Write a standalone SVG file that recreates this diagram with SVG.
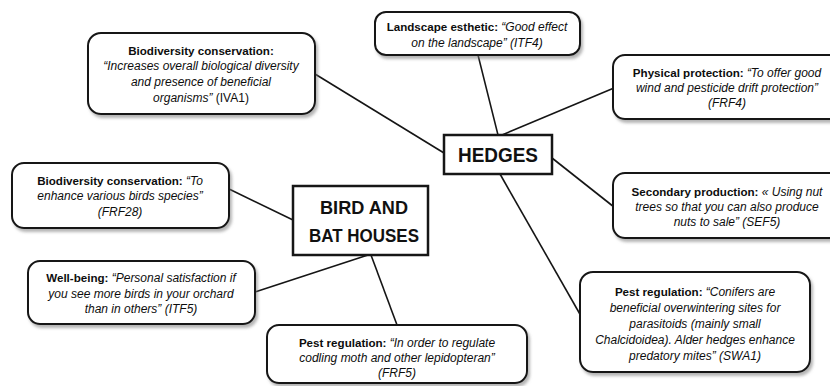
<svg xmlns="http://www.w3.org/2000/svg" width="830" height="386" viewBox="0 0 830 386">
<defs>
<filter id="sh" x="-10%" y="-10%" width="130%" height="140%">
<feDropShadow dx="2" dy="3" stdDeviation="1.5" flood-color="#777" flood-opacity="0.55"/>
</filter>
</defs>
<style>
.box{fill:#fff;stroke:#161616;stroke-width:2;filter:url(#sh)}
.hub{fill:#fff;stroke:#161616;stroke-width:2.5}
.t{font-family:"Liberation Sans",Arial,sans-serif;font-size:12px;text-anchor:middle;fill:#0d0d0d}
.h{font-family:"Liberation Sans",Arial,sans-serif;font-weight:bold;text-anchor:middle;fill:#111}
.b{font-weight:bold;font-size:11.6px}
.i{font-style:italic}
.c line{stroke:#151515;stroke-width:1.6}
</style>
<rect width="830" height="386" fill="#fff"/>
<g id="connectors" class="c">
<line x1="315" y1="74" x2="444" y2="153"/>
<line x1="478" y1="55" x2="498" y2="135"/>
<line x1="502" y1="135" x2="614" y2="88"/>
<line x1="552" y1="158" x2="614" y2="207"/>
<line x1="500" y1="174" x2="581" y2="316"/>
<line x1="229" y1="189" x2="293" y2="220"/>
<line x1="255" y1="292" x2="368" y2="255"/>
<line x1="371" y1="255" x2="397" y2="325"/>
</g>
<g id="biodiv-ival">
<rect class="box" x="88" y="33" width="227" height="81" rx="13"/>
<text class="t" x="201" y="55"><tspan class="b">Biodiversity conservation:</tspan></text>
<text class="t i" x="201" y="70">“Increases overall biological diversity</text>
<text class="t i" x="201" y="86">and presence of beneficial</text>
<text class="t" x="201" y="102"><tspan class="i">organisms”</tspan> (IVA1)</text>
</g>
<g id="landscape">
<rect class="box" x="375" y="12" width="205" height="43" rx="11"/>
<text class="t" x="477" y="31"><tspan class="b">Landscape esthetic: </tspan><tspan class="i">“Good effect</tspan></text>
<text class="t i" x="477" y="47">on the landscape” (ITF4)</text>
</g>
<g id="physical">
<rect class="box" x="613" y="55" width="230" height="64" rx="12"/>
<text class="t" x="727" y="77"><tspan class="b">Physical protection: </tspan><tspan class="i">“To offer good</tspan></text>
<text class="t i" x="727" y="92">wind and pesticide drift protection”</text>
<text class="t i" x="727" y="107">(FRF4)</text>
</g>
<g id="hedges">
<rect class="hub" x="444" y="135" width="108" height="39"/>
<text class="h" x="498" y="162" font-size="21" textLength="80" lengthAdjust="spacingAndGlyphs">HEDGES</text>
</g>
<g id="secondary">
<rect class="box" x="613" y="173" width="230" height="65" rx="12"/>
<text class="t" x="727" y="196"><tspan class="b">Secondary production: </tspan><tspan class="i">« Using nut</tspan></text>
<text class="t i" x="727" y="211">trees so that you can also produce</text>
<text class="t i" x="727" y="226">nuts to sale” (SEF5)</text>
</g>
<g id="biodiv-frf28">
<rect class="box" x="12" y="163" width="217" height="65" rx="12"/>
<text class="t" x="120" y="185"><tspan class="b">Biodiversity conservation: </tspan><tspan class="i">“To</tspan></text>
<text class="t i" x="120" y="200">enhance various birds species”</text>
<text class="t i" x="120" y="216">(FRF28)</text>
</g>
<g id="bird-bat">
<rect class="hub" x="293" y="186" width="135" height="69"/>
<text class="h" x="364" y="214" font-size="19" textLength="88" lengthAdjust="spacingAndGlyphs">BIRD AND</text>
<text class="h" x="364" y="242" font-size="19" textLength="110" lengthAdjust="spacingAndGlyphs">BAT HOUSES</text>
</g>
<g id="wellbeing">
<rect class="box" x="28" y="261" width="227" height="63" rx="12"/>
<text class="t" x="141" y="282"><tspan class="b">Well-being: </tspan><tspan class="i">“Personal satisfaction if</tspan></text>
<text class="t i" x="141" y="297.5">you see more birds in your orchard</text>
<text class="t i" x="141" y="313">than in others” (ITF5)</text>
</g>
<g id="pest-frf5">
<rect class="box" x="267" y="325" width="260" height="58" rx="12"/>
<text class="t" x="397" y="347"><tspan class="b">Pest regulation: </tspan><tspan class="i">“In order to regulate</tspan></text>
<text class="t i" x="397" y="362">codling moth and other lepidopteran”</text>
<text class="t i" x="397" y="377">(FRF5)</text>
</g>
<g id="pest-swa1">
<rect class="box" x="580" y="272" width="230" height="100" rx="13"/>
<text class="t" x="695" y="296"><tspan class="b">Pest regulation: </tspan><tspan class="i">“Conifers are</tspan></text>
<text class="t i" x="695" y="312">beneficial overwintering sites for</text>
<text class="t i" x="695" y="328">parasitoids (mainly small</text>
<text class="t i" x="695" y="344">Chalcidoidea). Alder hedges enhance</text>
<text class="t i" x="695" y="360">predatory mites” (SWA1)</text>
</g>
</svg>
